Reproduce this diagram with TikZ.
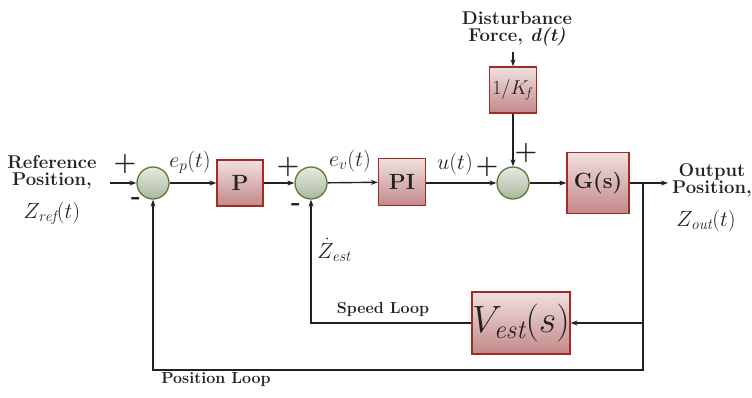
\documentclass[tikz,border=0pt]{standalone}
\usepackage{fix-cm}
\usepackage{fontspec}
\usetikzlibrary{arrows.meta,calc}
\definecolor{boxtop}{HTML}{F0E0E0}
\definecolor{boxbot}{HTML}{C48888}
\definecolor{boxline}{HTML}{A02C26}
\definecolor{sumtop}{HTML}{E6EAE2}
\definecolor{sumbot}{HTML}{A9B89C}
\definecolor{sumline}{HTML}{5B7A3C}
\definecolor{ink}{HTML}{222222}
\begin{document}
\begin{tikzpicture}[x=1pt,y=-1pt,
  blk/.style={draw=boxline,line width=1.3pt,top color=boxtop,bottom color=boxbot,inner sep=0pt,text=ink,font=\fontsize{22}{24}\selectfont\bfseries},
  sumnode/.style={circle,draw=sumline,line width=1.3pt,top color=sumtop,bottom color=sumbot,minimum size=32pt,inner sep=0pt},
  wire/.style={draw=ink,line width=1.4pt},
  arr/.style={wire,-{Stealth[length=7pt,width=5pt]}},
  lbl/.style={text=ink,font=\fontsize{18.5}{20}\selectfont\bfseries,align=center},
  loop/.style={text=ink,font=\fontsize{16}{18}\selectfont\bfseries},
  sig/.style={text=ink,font=\fontsize{22}{24}\selectfont},
  sgn/.style={text=ink,font=\fontsize{26}{26}\selectfont\bfseries}]
\useasboundingbox (0,0) rectangle (752,397);
% blocks
\node[sumnode] (s1) at (153,183) {};
\node[blk,minimum width=46pt,minimum height=46pt] (P) at (240,183) {P};
\node[sumnode] (s2) at (311,183) {};
\node[blk,minimum width=47pt,minimum height=47pt] (PI) at (402,182) {PI};
\node[sumnode] (s3) at (513,183) {};
\node[blk,minimum width=47pt,minimum height=46pt,font=\fontsize{20}{22}\selectfont] (K) at (513,90) {1/$K_{\!f}$};
\node[blk,minimum width=62pt,minimum height=61pt] (G) at (598,183) {G(s)};
\node[blk,minimum width=92pt,minimum height=62pt,font=\fontsize{38}{40}\selectfont] (V) at (521,323) {$V_{\mathit{est}}(s)$};
% text
\node[lbl] (ref) at (52,172) {Reference\\[-3pt]Position,};
\node[sig] (zref) at (52,213) {$Z_{\mathit{ref}}(t)$};
\node[lbl] (dist) at (517,29) {Disturbance\\[-3pt]Force, \textit{d(t)}};
\node[lbl] (outp) at (712,180) {Output\\[-3pt]Position,};
\node[sig] (zout) at (706,221) {$Z_{\mathit{out}}(t)$};
\node[loop] (speed) at (383,309) {Speed Loop};
\node[loop] (pos) at (216,380) {Position Loop};
\node[sig] (ep) at (190,162) {$e_{p}(t)$};
\node[sig] (ev) at (350,161) {$e_{v}(t)$};
\node[sig] (ut) at (455,164) {$u(t)$};
\node[sig] (zd) at (334,250) {$\dot{Z}_{\mathit{est}}$};
% signs
\node[sgn] (p1) at (125,164) {+};
\node[sgn] (m1) at (136,201) {-};
\node[sgn] (p2) at (288,167) {+};
\node[sgn] (m2) at (296,207) {-};
\node[sgn] (p3) at (487,167) {+};
\node[sgn] (p4) at (526,153) {+};
% coordinates
\coordinate (in) at (110,183);
\coordinate (dtop) at (513,52);
\coordinate (out) at (668,183);
\coordinate (br) at (643,183);
\coordinate (brv) at (643,323);
\coordinate (brb) at (643,370);
\coordinate (vl) at (311,323);
\coordinate (bl) at (153,370);
% connectors
\draw[arr] (in) -- (s1);
\draw[arr] (s1) -- (P);
\draw[arr] (P) -- (s2);
\draw[arr] (s2) -- (PI);
\draw[arr] (PI.east |- s3) -- (s3);
\draw[arr] (dtop) -- (K);
\draw[arr] (K) -- (s3);
\draw[arr] (s3) -- (G);
\draw[arr] (G.east |- br) -- (out);
\draw[arr] (br) -- (brv) -- (V);
\draw[arr] (V) -- (vl) -- (s2);
\draw[arr] (brv) -- (brb) -- (bl) -- (s1);
\end{tikzpicture}
\end{document}
